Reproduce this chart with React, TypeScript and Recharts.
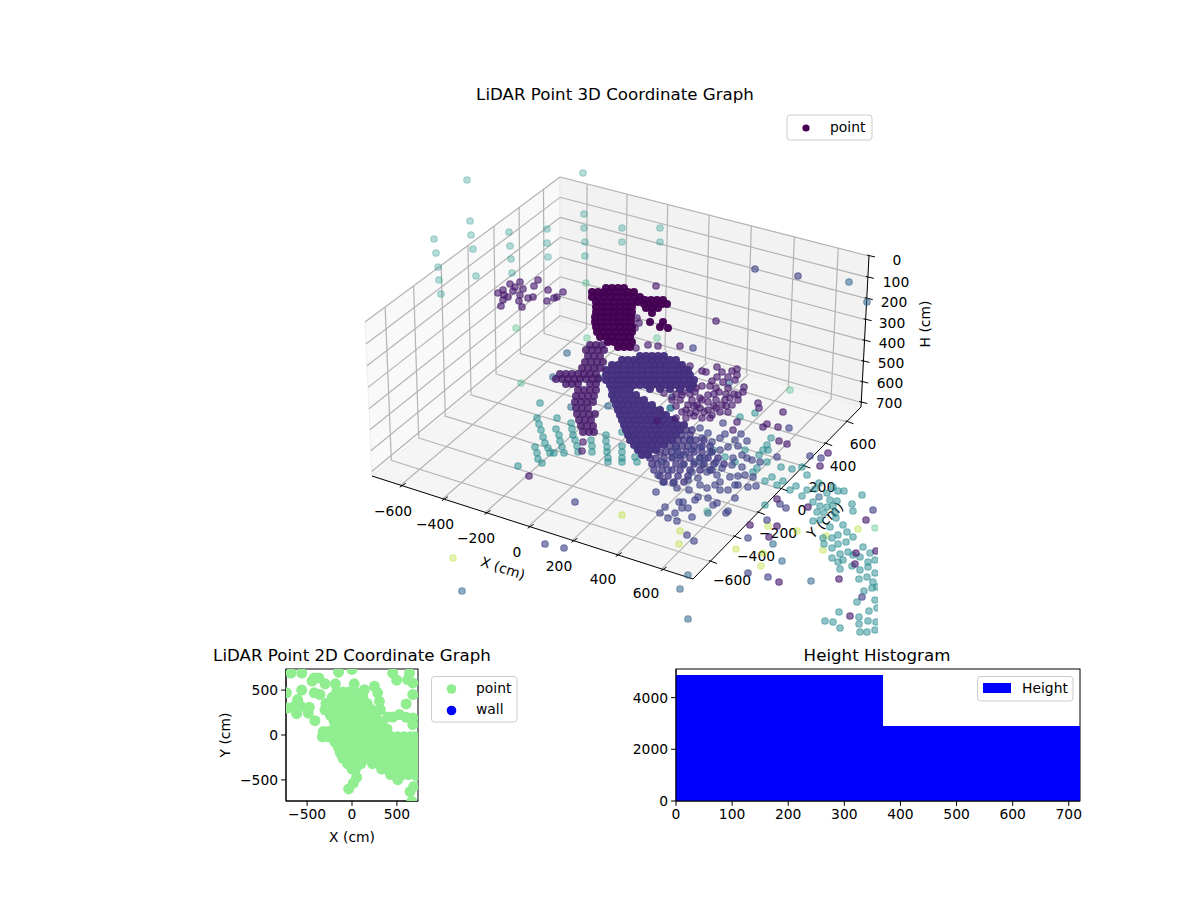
import React from "react";
import { AreaChart, Area, ScatterChart, Scatter, XAxis, YAxis, ReferenceLine } from "recharts";

type Pt = [number, number];
type Row = [number, number[]];
const FONT = "DejaVu Sans";
const MINUS = "\u2212";

// ---------- 3D panel: marks read as positions on the projected picture plane ----------
const farTealPts: Pt[] = [[467,180],[583,173],[470,221],[471,235],[473,249],[434,239],[436,253],[438,267],[439,280],[441,294],[476,276],[509,232],[510,246],[511,259],[512,273],[547,229],[547,243],[548,257],[584,214],[584,228],[585,242],[585,256],[622,228],[622,242],[660,228],[660,242]];
const mintPts: Pt[] = [[586,283],[516,328],[521,383],[587,338],[657,338],[790,390],[875,528],[707,511]];
const yellowPts: Pt[] = [[453,558],[622,515],[680,531],[679,544],[736,549],[763,553],[761,566],[768,526],[797,531],[826,536],[823,550],[858,529]];
const tealGridPts: Pt[] = [[537,418],[539,424],[541,430],[543,437],[545,443],[548,448],[550,453],[554,453],[535,447],[537,453],[538,459],[542,463],[557,418],[556,429],[559,435],[560,441],[562,447],[564,453],[571,423],[572,429],[573,435],[575,440],[577,446],[578,452],[591,440],[592,446],[592,452],[606,435],[606,441],[607,447],[607,452],[608,458],[608,462],[622,446],[622,452],[622,458],[622,462],[637,448],[635,457],[637,462],[540,403],[622,432],[518,466],[670,408],[740,417],[735,462],[753,472],[700,458],[713,450],[725,457],[765,505]];
const tealArcPts: Pt[] = [[771,438],[767,445],[763,450],[759,455],[745,450],[757,468],[767,462],[781,467],[792,469],[802,467],[807,475],[765,481],[772,477],[783,481],[777,485],[790,490],[796,486],[807,490],[802,496],[819,483],[815,489],[833,487],[844,491],[838,491],[862,495],[827,493],[830,500],[837,501],[820,506],[813,502],[852,504],[833,506],[827,507],[817,512],[824,513],[835,513],[853,511],[813,521],[820,520],[830,527],[836,518],[843,525],[847,532],[853,537],[838,535],[832,538],[823,538],[824,544],[832,548],[838,544],[846,542],[863,547],[848,552],[840,554],[832,558],[838,562],[843,560],[853,555],[860,557],[870,553],[868,562],[875,560],[840,569],[852,566],[860,570],[868,567],[859,579],[867,577],[875,573],[873,582],[877,587],[864,591],[872,588],[857,602],[875,600],[869,611],[877,608],[839,612],[825,621],[833,622],[840,628],[859,617],[859,624],[868,621],[876,622],[867,632],[860,632],[875,630],[768,450],[755,413]];
const steelPts: Pt[] = [[849,282],[867,302],[729,383],[671,408],[688,575],[680,589],[688,619],[773,544],[782,561],[811,581],[819,497],[708,513],[462,591],[553,377],[567,353],[599,378],[608,406],[571,407]];
const fanSparsePts: Pt[] = [[755,269],[798,276],[693,348],[672,397],[656,492],[658,475],[673,483],[677,488],[688,480],[689,490],[698,478],[700,485],[707,488],[715,485],[720,482],[728,490],[735,485],[738,485],[748,487],[756,486],[717,475],[707,472],[730,477],[738,476],[745,475],[753,477],[752,460],[742,467],[732,465],[722,468],[712,470],[702,465],[692,472],[683,465],[673,457],[680,455],[692,450],[700,447],[710,452],[720,450],[733,458],[747,458],[742,455],[760,462],[777,457],[708,433],[720,438],[700,428],[741,434],[723,423],[747,441],[789,428],[821,458],[810,456],[735,498],[717,503],[713,505],[708,498],[720,490],[698,497],[695,500],[683,502],[679,502],[682,508],[688,508],[665,507],[660,513],[668,518],[675,513],[677,521],[692,517],[726,513],[728,511],[687,535],[694,541],[748,538],[767,520],[748,573],[768,577],[780,504],[786,508],[873,510],[862,597],[575,502],[545,544],[564,548],[695,462],[668,470],[663,482],[705,458],[716,462],[728,447],[738,446],[690,440],[702,438],[712,442],[725,434],[735,440],[662,462],[684,455],[676,448]];
const violetPts: Pt[] = [[510,284],[520,282],[538,280],[534,286],[548,290],[563,292],[557,297],[554,298],[547,301],[533,297],[528,298],[523,289],[520,295],[519,301],[522,307],[513,291],[508,297],[503,290],[498,293],[504,295],[503,300],[501,306],[515,287],[656,286],[716,321],[680,346],[648,345],[658,346],[702,371],[717,367],[732,371],[737,369],[737,375],[717,377],[712,381],[702,386],[710,386],[723,382],[728,377],[735,380],[690,366],[719,392],[744,387],[743,392],[738,395],[738,400],[730,398],[725,400],[722,405],[732,405],[708,395],[700,398],[708,402],[697,405],[688,405],[682,412],[690,413],[700,408],[708,410],[683,392],[664,393],[682,395],[758,403],[759,408],[783,412],[637,318],[639,323],[635,328],[636,348],[733,430],[737,422],[763,427],[767,424],[778,427],[779,441],[787,444],[828,453],[820,466],[750,525],[777,526],[769,537],[779,582],[777,499],[808,507],[856,553],[855,564],[876,551],[839,579],[866,520],[850,616],[529,476],[583,442],[582,451],[657,421],[686,410],[694,416],[702,418],[712,415],[695,392],[716,408],[728,412],[706,372],[722,372],[690,388],[696,388],[716,388],[728,388],[676,394],[690,394],[714,394],[726,394],[734,394],[672,400],[680,400],[692,400],[702,400],[716,400],[676,406],[694,406],[714,406],[726,406],[696,412],[704,412],[720,412],[676,418],[686,418],[710,418]];
const pillarStemPts: Pt[] = [[652,313],[650,322],[663,322],[668,328],[660,327]];

const pillarRows: Row[] = [
  [288,[606,612,618,624]],
  [292,[592,598,604,610,616,622,628,634]],
  [297,[592,598,604,610,616,622,628,634,640]],
  [302,[596,602,608,614,620,626,632,638]],
  [307,[596,602,608,614,620,626,632]],
  [312,[596,602,608,614,620,626,632]],
  [317,[595,601,607,613,619,625,631]],
  [322,[595,601,607,613,619,625,631]],
  [327,[596,602,608,614,620,626,632]],
  [332,[597,603,609,615,621,627,632]],
  [337,[600,606,612,618,624,630]],
  [342,[608,614,620,626,632]],
  [347,[618,624,630]],
  [300,[645,651,657,663]],
  [304,[644,650,656,662,667]],
  [308,[646,652,658]],
];
const columnRows: Row[] = [
  [345,[590,596,602]],
  [350,[586,592,598,604]],
  [356,[588,594,600]],
  [362,[585,591,597,603]],
  [368,[582,588,594,600]],
  [374,[560,566,572,578,584,590,596]],
  [379,[556,562,568,574,580,586,592,598]],
  [384,[566,572,578,590,596]],
  [390,[578,584,590,596]],
  [396,[576,582,588,594]],
  [402,[575,581,587,593]],
  [408,[576,582,588]],
  [414,[577,583,589,595]],
  [420,[579,585,591]],
  [426,[581,587,593]],
  [432,[583,589,594]],
];
const domeRows: Row[] = [
  [356,[640,646,652,658,664]],
  [360,[622,628,634,640,646,652,658,664,670,676]],
  [365,[612,618,624,630,636,642,648,654,660,666,672,678,682]],
  [370,[606,612,618,624,630,636,642,648,654,660,666,672,678,684,688]],
  [375,[606,612,618,624,630,636,642,648,654,660,666,672,678,684,690]],
  [380,[606,612,618,624,630,636,642,648,654,660,666,672,678,684,690,694]],
  [385,[610,616,622,628,634,640,646,652,658,664,670,676,682,688,693]],
  [389,[612,618,624,630,650,660,670,680,690]],
];
const fanRows: Row[] = [
  [395,[612,618,624,630,636]],
  [400,[614,620,626,632,638,644]],
  [405,[616,622,628,634,640,646,652]],
  [410,[618,624,630,636,642,648,654,660]],
  [415,[620,626,632,638,644,650,656,662,666]],
  [420,[622,628,634,640,646,652,658,664,670,674]],
  [425,[624,630,636,642,648,654,660,666,672,678,684]],
  [430,[626,632,638,644,650,656,662,668,674,680]],
  [435,[628,634,640,646,652,658,664,670,676]],
  [440,[630,636,642,648,654,660,666,672]],
  [445,[634,640,646,652,658,664]],
  [450,[638,644,650,656]],
  [455,[642,648]],
];
const fanFadeRows: Row[] = [
  [430,[686,692]],
  [435,[682,690]],
  [440,[678,684,690,696,704]],
  [446,[670,676,682,688,694,702,710]],
  [452,[660,666,672,678,686,694,702,712]],
  [458,[650,656,664,672,680,690,700,708,718]],
  [464,[652,658,666,676,684,694,704,714,724]],
  [470,[654,662,672,680,690,700,710]],
  [476,[660,668,678,688]],
  [482,[664,674,684]],
];

// ---------- 2D panel (cm) ----------
const scatter2dSparse: Pt[] = [[-680,690],[-560,690],[-420,635],[-370,635],[-445,600],[-300,570],[-185,570],[-150,700],[25,570],[0,730],[-560,500],[-420,470],[-357,450],[-730,470],[-605,395],[-640,320],[-718,300],[-570,320],[-617,238],[-476,310],[-487,245],[-413,160],[138,505],[250,543],[286,470],[305,375],[316,283],[120,430],[454,690],[498,610],[620,617],[677,580],[640,690],[677,450],[603,346],[398,200],[454,200],[528,227],[603,197],[677,190],[677,115],[390,67],[26,-370],[52,-472],[15,-535],[-37,-600],[510,-498],[714,-450],[647,-630],[688,-573],[666,-740]];
const scatter2dRows: Row[] = [
  [480,[-170,-100,-30,30]],
  [420,[-220,-150,-80,-10,50,100]],
  [350,[-290,-220,-150,-80,-10,60,130,170]],
  [280,[-300,-210,-140,-70,0,70,140,220]],
  [220,[-240,-170,-100,-30,40,110,180,260]],
  [160,[-200,-130,-60,10,80,150,220,300]],
  [100,[-190,-120,-50,20,90,160,230,300,340]],
  [40,[-320,-260,-190,-120,-50,20,90,160,230,300,370]],
  [-20,[-330,-260,-190,-120,-50,20,90,160,230,300,370,440,510,580,650,700]],
  [-80,[-190,-120,-50,20,90,160,230,300,370,440,510,580,650,700]],
  [-140,[-150,-80,-10,60,130,200,270,340,410,480,550,620,700]],
  [-200,[-130,-60,10,80,150,220,290,360,430,500,570,640,700]],
  [-260,[-100,-30,40,110,180,250,320,390,460,530,600,670,700]],
  [-320,[-50,20,100,230,300,370,440,510,580,650,690]],
  [-380,[0,40,330,400,470,540,620,680]],
  [-440,[430,500,560,630]],
];

// ---------- Histogram ----------
const histEdges = [0, 369, 720];
const histCounts = [4874, 2901, 2901];
const histTicksX = [0, 100, 200, 300, 400, 500, 600, 700];
const histTicksY = [0, 2000, 4000];
const ticks2d = [-500, 0, 500];

// ---------- 3D tick labels ----------
const xTicks3d = [-600, -400, -200, 0, 200, 400, 600];
const yTicks3d = [-600, -400, -200, 0, 200, 400, 600];
const zTicks3d = [0, 100, 200, 300, 400, 500, 600, 700];
const xTickLabelPos: Pt[] = [[393,511],[435,524],[476,538],[517,552],[559,566],[603,579],[646,593]];
const yTickLabelPos: Pt[] = [[732,580],[756,556],[778,533],[802,510],[822,487],[843,466],[863,444]];
const zTickLabelPos: Pt[] = [[897,260],[896,282],[894,302],[892,323],[892,343],[891,363],[890,383],[889,403]];

const rowsToPts = (rows: Row[]): Pt[] => rows.flatMap(([y, xs]) => xs.map((x) => [x, y] as Pt));
const toData = (p: Pt[]) => p.map(([x, y]) => ({ x, y }));

// Homography from the unit square to a quad: corners (0,0),(1,0),(1,1),(0,1)
const quadMap = (q: Pt[]) => {
  const [[x0, y0], [x1, y1], [x2, y2], [x3, y3]] = q;
  const dx1 = x1 - x2, dx2 = x3 - x2, sx = x0 - x1 + x2 - x3;
  const dy1 = y1 - y2, dy2 = y3 - y2, sy = y0 - y1 + y2 - y3;
  const den = dx1 * dy2 - dx2 * dy1;
  const g = (sx * dy2 - dx2 * sy) / den, h = (dx1 * sy - sx * dy1) / den;
  const a = x1 - x0 + g * x1, b = x3 - x0 + h * x3, d = y1 - y0 + g * y1, e = y3 - y0 + h * y3;
  return (u: number, v: number): Pt => {
    const w = g * u + h * v + 1;
    return [(a * u + b * v + x0) / w, (d * u + e * v + y0) / w];
  };
};

const floorQuad: Pt[] = [[372,476],[693,579],[861,407],[560,320]];
const backQuad: Pt[] = [[560,320],[861,407],[869,256],[560,177]];
const leftQuad: Pt[] = [[372,476],[560,320],[560,177],[365,322]];
const floorAt = quadMap(floorQuad);
const backAt = quadMap(backQuad);
const leftAt = quadMap(leftQuad);
const U = (x: number) => (x + 738) / 1476;
const V = (y: number) => (y + 738) / 1476;
const W = (z: number) => 1 - z / 722;

type Seg = { a: Pt; b: Pt };
const gridSegs: Seg[] = [
  ...xTicks3d.flatMap((t) => [
    { a: floorAt(U(t), 0), b: floorAt(U(t), 1) },
    { a: backAt(U(t), 0), b: backAt(U(t), 1) },
  ]),
  ...yTicks3d.flatMap((t) => [
    { a: floorAt(0, V(t)), b: floorAt(1, V(t)) },
    { a: leftAt(V(t), 0), b: leftAt(V(t), 1) },
  ]),
  ...zTicks3d.flatMap((t) => [
    { a: backAt(0, W(t)), b: backAt(1, W(t)) },
    { a: leftAt(0, W(t)), b: leftAt(1, W(t)) },
  ]),
];
const axisSegs: Seg[] = [
  { a: [372,476], b: [693,579] },
  { a: [693,579], b: [861,407] },
  { a: [861,407], b: [869,256] },
  ...xTicks3d.map((t) => { const [x, y] = floorAt(U(t), 0); return { a: [x - 1, y + 2] as Pt, b: [x + 5, y - 2] as Pt }; }),
  ...yTicks3d.map((t) => { const [x, y] = floorAt(1, V(t)); return { a: [x - 1, y - 1] as Pt, b: [x + 7, y + 2] as Pt }; }),
  ...zTicks3d.map((t) => { const [x, y] = backAt(1, W(t)); return { a: [x - 2, y - 1] as Pt, b: [x + 6, y + 1] as Pt }; }),
];

const groups3d = [
  { name: "far", pts: farTealPts, color: "#1f968b", op: 0.33, dense: false },
  { name: "mint", pts: mintPts, color: "#35b779", op: 0.33, dense: false },
  { name: "yellow", pts: yellowPts, color: "#b5de2b", op: 0.38, dense: false },
  { name: "grid", pts: tealGridPts, color: "#1f8a8c", op: 0.5, dense: false },
  { name: "arc", pts: tealArcPts, color: "#23898e", op: 0.5, dense: false },
  { name: "steel", pts: steelPts, color: "#31688e", op: 0.55, dense: false },
  { name: "fanFade", pts: rowsToPts(fanFadeRows), color: "#43337f", op: 0.72, dense: false },
  { name: "fanSparse", pts: fanSparsePts, color: "#414487", op: 0.62, dense: false },
  { name: "fan", pts: rowsToPts(fanRows), color: "#44327f", op: 0.97, dense: true },
  { name: "violet", pts: violetPts, color: "#471a6e", op: 0.62, dense: false },
  { name: "dome", pts: rowsToPts(domeRows), color: "#44307e", op: 0.97, dense: true },
  { name: "column", pts: rowsToPts(columnRows), color: "#46186a", op: 0.82, dense: true },
  { name: "pillar", pts: [...rowsToPts(pillarRows), ...pillarStemPts], color: "#440154", op: 0.97, dense: true },
];

const dot3d = (fill: string, op: number, dense: boolean) => (p: any) =>
  dense ? (
    <circle cx={p.cx} cy={p.cy} r={4} fill={fill} fillOpacity={op} stroke="none" />
  ) : (
    <circle cx={p.cx} cy={p.cy} r={3.3} fill={fill} fillOpacity={op} stroke={fill} strokeOpacity={op} strokeWidth={1.1} />
  );
const dot2d = (p: any) => <circle cx={p.cx} cy={p.cy} r={5.5} fill="#90ee90" stroke="none" />;

const T = (props: any) => <text fontFamily={FONT} fontSize={13.89} fill="#000" {...props} />;
const tickStyle = { fontFamily: FONT, fontSize: 13.89, fill: "#000" };
const fmt = (v: number) => (v < 0 ? MINUS + Math.abs(v) : String(v));
const abs: React.CSSProperties = { position: "absolute" };

export default function App() {
  return (
    <div style={{ position: "absolute", left: 0, top: 0, width: 1200, height: 900, background: "#fff" }}>
      {/* 3D panel */}
      <div style={{ ...abs, left: 0, top: 0 }}>
        <ScatterChart width={1200} height={900} margin={{ top: 0, left: 0, right: 322, bottom: 264 }}>
          <XAxis type="number" dataKey="x" domain={[0, 878]} hide allowDataOverflow />
          <YAxis type="number" dataKey="y" domain={[0, 636]} reversed hide allowDataOverflow />
          <polygon points={leftQuad.join(" ")} fill="#f9f9f9" stroke="#eeeeee" strokeWidth={1} />
          <polygon points={backQuad.join(" ")} fill="#f2f2f2" stroke="#e8e8e8" strokeWidth={1} />
          <polygon points={floorQuad.join(" ")} fill="#f5f5f5" stroke="#eeeeee" strokeWidth={1} />
          {gridSegs.map((s, i) => (
            <ReferenceLine key={"g" + i} ifOverflow="visible" stroke="#b4b4b4" strokeWidth={1.2}
              segment={[{ x: s.a[0], y: s.a[1] }, { x: s.b[0], y: s.b[1] }]} />
          ))}
          {axisSegs.map((s, i) => (
            <ReferenceLine key={"a" + i} ifOverflow="visible" stroke="#000" strokeWidth={1}
              segment={[{ x: s.a[0], y: s.a[1] }, { x: s.b[0], y: s.b[1] }]} />
          ))}
          {groups3d.map((g) => (
            <Scatter key={g.name} name={g.name} data={toData(g.pts)} isAnimationActive={false}
              shape={dot3d(g.color, g.op, g.dense)} />
          ))}
          <text x={615} y={100} textAnchor="middle" fontFamily={FONT} fontSize={16.67} fill="#000">LiDAR Point 3D Coordinate Graph</text>
          {xTicks3d.map((t, i) => (
            <T key={"xl" + i} x={xTickLabelPos[i][0]} y={xTickLabelPos[i][1] + 5} textAnchor="middle">{fmt(t)}</T>
          ))}
          {yTicks3d.map((t, i) => (
            <T key={"yl" + i} x={yTickLabelPos[i][0]} y={yTickLabelPos[i][1] + 5} textAnchor="middle">{fmt(t)}</T>
          ))}
          {zTicks3d.map((t, i) => (
            <T key={"zl" + i} x={zTickLabelPos[i][0]} y={zTickLabelPos[i][1] + 5} textAnchor="middle">{fmt(t)}</T>
          ))}
          <T x={503} y={573} textAnchor="middle" transform="rotate(18 503 568)">X (cm)</T>
          <T x={825} y={525} textAnchor="middle" transform="rotate(-45 825 520)">Y (cm)</T>
          <T x={925} y={329} textAnchor="middle" transform="rotate(-90 925 324)">H (cm)</T>
          <rect x={787} y={115} width={85} height={25} rx={3} fill="#fff" fillOpacity={0.8} stroke="#cccccc" />
          <circle cx={806} cy={128} r={3.6} fill="#440154" />
          <T x={830} y={132}>point</T>
        </ScatterChart>
      </div>

      {/* 2D panel */}
      <div style={{ ...abs, left: 200, top: 640 }}>
        <ScatterChart width={330} height={210} margin={{ top: 29, left: 0, right: 112, bottom: 0 }}>
          <XAxis type="number" dataKey="x" domain={[-735, 735]} ticks={ticks2d} tickFormatter={fmt} allowDataOverflow
            height={49} tick={tickStyle} stroke="#000" tickSize={4.9} tickMargin={3} interval={0} />
          <YAxis type="number" dataKey="y" domain={[-735, 735]} ticks={ticks2d} tickFormatter={fmt} allowDataOverflow
            width={86} tick={tickStyle} stroke="#000" tickSize={4.9} tickMargin={3} interval={0} />
          <Scatter name="point" data={toData([...rowsToPts(scatter2dRows), ...scatter2dSparse])} isAnimationActive={false}
            shape={dot2d} />
          <rect x={86} y={29} width={132} height={132} fill="none" stroke="#000" />
          <text x={152} y={21} textAnchor="middle" fontFamily={FONT} fontSize={16.67} fill="#000">LiDAR Point 2D Coordinate Graph</text>
          <T x={152} y={202} textAnchor="middle">X (cm)</T>
          <T x={25} y={100} textAnchor="middle" transform="rotate(-90 25 95)">Y (cm)</T>
          <rect x={231.5} y={36.5} width={85.5} height={45.5} rx={3} fill="#fff" stroke="#cccccc" />
          <circle cx={251.5} cy={49} r={4.8} fill="#90ee90" />
          <circle cx={251.5} cy={70.5} r={4.8} fill="#0000ff" />
          <T x={276} y={53}>point</T>
          <T x={276} y={74}>wall</T>
        </ScatterChart>
      </div>

      {/* Histogram */}
      <div style={{ ...abs, left: 620, top: 640 }}>
        <AreaChart width={480} height={200} margin={{ top: 29, left: 0, right: 20, bottom: 0 }}
          data={histEdges.map((e, i) => ({ edge: e, count: histCounts[i] }))}>
          <XAxis type="number" dataKey="edge" domain={[0, 720]} ticks={histTicksX} allowDataOverflow
            height={39} tick={tickStyle} stroke="#000" tickSize={4.9} tickMargin={3} interval={0} />
          <YAxis type="number" domain={[0, 5107]} ticks={histTicksY} allowDataOverflow
            width={56} tick={tickStyle} stroke="#000" tickSize={4.9} tickMargin={3} interval={0} />
          <Area type="stepAfter" dataKey="count" name="Height" fill="#0000ff" fillOpacity={1} stroke="none" isAnimationActive={false} dot={false} activeDot={false} />
          <rect x={56} y={29} width={404} height={132} fill="none" stroke="#000" />
          <text x={257} y={21} textAnchor="middle" fontFamily={FONT} fontSize={16.67} fill="#000">Height Histogram</text>
          <rect x={357.5} y={36.5} width={95.5} height={24.5} rx={3} fill="#fff" fillOpacity={0.8} stroke="#cccccc" />
          <rect x={363} y={43} width={28} height={10} fill="#0000ff" />
          <T x={402} y={53}>Height</T>
        </AreaChart>
      </div>
    </div>
  );
}
